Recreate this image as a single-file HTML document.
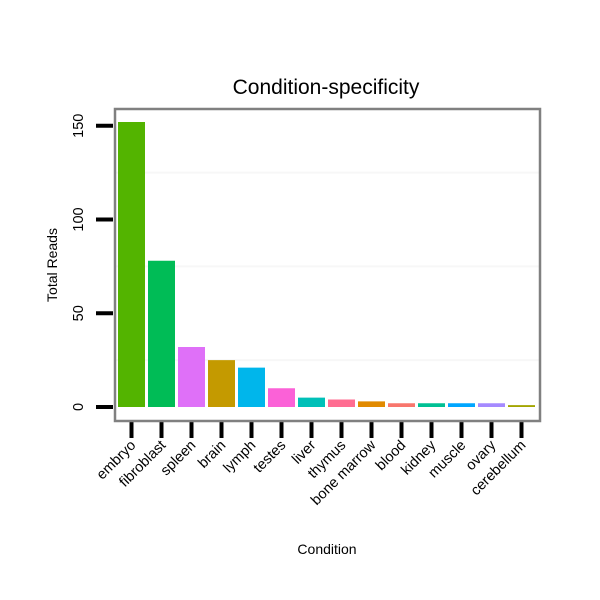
<!DOCTYPE html>
<html><head><meta charset="utf-8"><style>body{margin:0;background:#fff}svg{display:block;font-family:"Liberation Sans",sans-serif}</style></head>
<body>
<svg id="c" width="600" height="600">
<text x="326" y="94" font-size="21" text-anchor="middle">Condition-specificity</text>
<text x="327" y="554" font-size="14" text-anchor="middle">Condition</text>
<text transform="translate(57,265) rotate(-90)" font-size="14" text-anchor="middle">Total Reads</text>
<g id="grid"></g><g id="bars"></g><g id="ax"></g>
<rect x="115" y="109" width="425" height="312" fill="none" stroke="#808080" stroke-width="2.5"/>
</svg>
<script>
const categories=["embryo","fibroblast","spleen","brain","lymph","testes","liver","thymus","bone marrow","blood","kidney","muscle","ovary","cerebellum"];
const values=[152,78,32,25,21,10,5,4,3,2,2,2,2,1];
const colors=["#53B400","#00BC56","#DF70F8","#C49A00","#00B6EB","#FB61D7","#00C0B8","#FF6C91","#E18A00","#F8766D","#00C094","#00A6FF","#A58AFF","#A3A500"];
const yTicks=[0,50,100,150];
const minor=[25,75,125];
const ns="http://www.w3.org/2000/svg";
const y=v=>407-v*1.875;
const xc=i=>131.5+i*30;
function mk(t,a,p){const e=document.createElementNS(ns,t);for(const k in a)e.setAttribute(k,a[k]);document.getElementById(p).appendChild(e);return e;}
minor.forEach(v=>{const l=mk('line',{x1:116,x2:539,y1:y(v),y2:y(v),stroke:'#f7f7f7','stroke-width':2},'grid');

});
values.forEach((v,i)=>{const r=mk('rect',{x:xc(i)-13.5,y:y(v),width:27,height:y(0)-y(v),fill:colors[i]},'bars');


const t=mk('line',{x1:xc(i),x2:xc(i),y1:422,y2:438,stroke:'#000','stroke-width':4},'ax');


const lb=mk('text',{transform:`translate(${xc(i)+5},446) rotate(-45)`,'font-size':14.5,'text-anchor':'end'},'ax');
lb.textContent=categories[i];

});
yTicks.forEach(v=>{const t=mk('line',{x1:96,x2:113,y1:y(v),y2:y(v),stroke:'#000','stroke-width':4},'ax');


const lb=mk('text',{transform:`translate(83,${y(v)}) rotate(-90)`,'font-size':14.5,'text-anchor':'middle'},'ax');
lb.textContent=v;

});
</script>
</body></html>
